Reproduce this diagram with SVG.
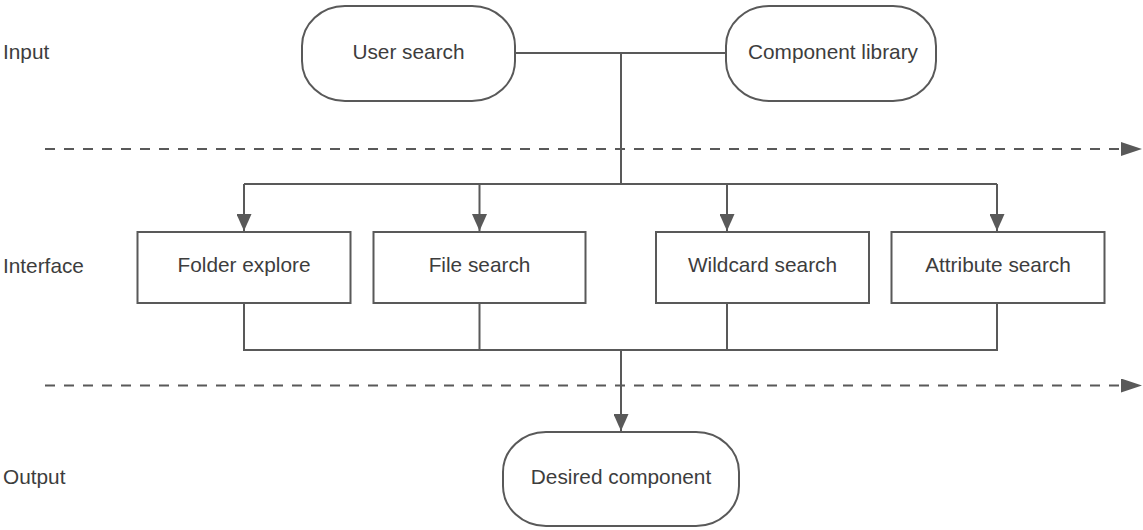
<svg xmlns="http://www.w3.org/2000/svg" width="1143" height="530" viewBox="0 0 1143 530">
  <style>
    .shape { fill: #ffffff; stroke: #595959; stroke-width: 2; }
    .label { font-family: "Liberation Sans", Arial, sans-serif; font-size: 20.8px; fill: #3d3d3d; }
    .mid { text-anchor: middle; }
    .wire { fill: none; stroke: #595959; stroke-width: 2; }
    .dash { fill: none; stroke: #595959; stroke-width: 2; stroke-dasharray: 10 9; }
  </style>
  <defs>
    <marker id="arrowDown" markerUnits="userSpaceOnUse" markerWidth="17" markerHeight="15" viewBox="0 0 17 15" refX="17" refY="7.5" orient="auto">
      <path d="M0,0 L17,7.5 L0,15 Z" fill="#595959"/>
    </marker>
    <marker id="arrowLane" markerUnits="userSpaceOnUse" markerWidth="21" markerHeight="14" viewBox="0 0 21 14" refX="0" refY="7" orient="auto">
      <path d="M0,0 L21,7 L0,14 Z" fill="#595959"/>
    </marker>
  </defs>

  <!-- lane titles -->
  <g id="lanes">
    <text class="label" x="3" y="59">Input</text>
    <text class="label" x="3" y="272.5">Interface</text>
    <text class="label" x="3" y="484">Output</text>
  </g>

  <!-- lane separators -->
  <g id="separators">
    <path class="dash" d="M45,149 H1121" marker-end="url(#arrowLane)"/>
    <path class="dash" d="M45,385.5 H1121" marker-end="url(#arrowLane)"/>
  </g>

  <!-- connectors -->
  <g id="connectors">
    <path class="wire" d="M515,53 H726"/>
    <path class="wire" d="M621,53 V184"/>
    <path class="wire" d="M244,184 H997"/>
    <path class="wire" d="M244,184 V231" marker-end="url(#arrowDown)"/>
    <path class="wire" d="M479.5,184 V231" marker-end="url(#arrowDown)"/>
    <path class="wire" d="M727,184 V231" marker-end="url(#arrowDown)"/>
    <path class="wire" d="M997,184 V231" marker-end="url(#arrowDown)"/>
    <path class="wire" d="M244,303 V350 H997 V303"/>
    <path class="wire" d="M479.5,303 V350"/>
    <path class="wire" d="M727,303 V350"/>
    <path class="wire" d="M621,350 V431" marker-end="url(#arrowDown)"/>
  </g>

  <g id="user-search">
    <rect class="shape" x="302" y="6" width="213" height="95" rx="43" ry="40"/>
    <text class="label mid" x="408.5" y="58.5">User search</text>
  </g>

  <g id="component-library">
    <rect class="shape" x="726" y="6" width="210" height="95" rx="43" ry="40"/>
    <text class="label mid" x="833" y="58.5">Component library</text>
  </g>

  <g id="folder-explore">
    <rect class="shape" x="137.5" y="232" width="213" height="71"/>
    <text class="label mid" x="244" y="272">Folder explore</text>
  </g>

  <g id="file-search">
    <rect class="shape" x="373.5" y="232" width="212" height="71"/>
    <text class="label mid" x="479.5" y="272">File search</text>
  </g>

  <g id="wildcard-search">
    <rect class="shape" x="656" y="232" width="213" height="71"/>
    <text class="label mid" x="762.5" y="272">Wildcard search</text>
  </g>

  <g id="attribute-search">
    <rect class="shape" x="891.5" y="232" width="213" height="71"/>
    <text class="label mid" x="998" y="272">Attribute search</text>
  </g>

  <g id="desired-component">
    <rect class="shape" x="503" y="432" width="236" height="94" rx="43" ry="40"/>
    <text class="label mid" x="621" y="484">Desired component</text>
  </g>
</svg>
